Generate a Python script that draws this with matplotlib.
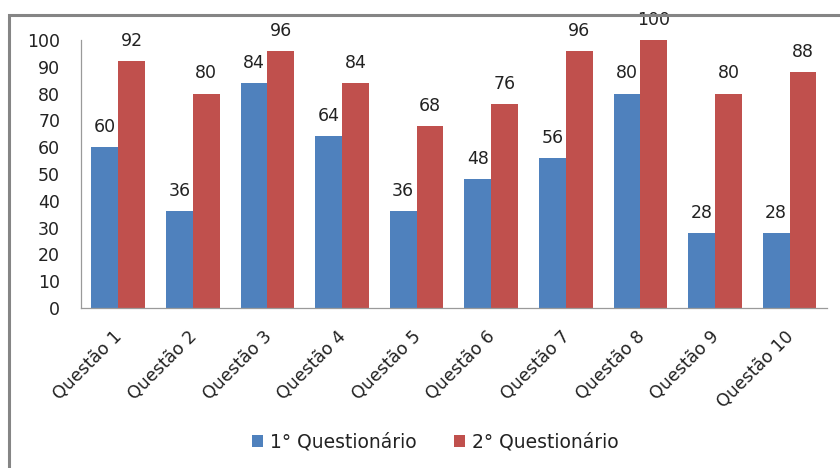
import numpy as np
import matplotlib.pyplot as plt
import matplotlib.transforms as mtransforms
from matplotlib.patches import Rectangle

questoes = ['Questão 1', 'Questão 2', 'Questão 3', 'Questão 4', 'Questão 5',
            'Questão 6', 'Questão 7', 'Questão 8', 'Questão 9', 'Questão 10']
q1 = [60, 36, 84, 64, 36, 48, 56, 80, 28, 28]
q2 = [92, 80, 96, 84, 68, 76, 96, 100, 80, 88]
series_names = ['1° Questionário', '2° Questionário']

plt.rcParams['font.family'] = ['DejaVu Sans']

fig = plt.figure(figsize=(8.4, 4.68), dpi=100)
ax = fig.add_axes([0.0964, 0.342, 0.888, 0.5725])

x = np.arange(len(questoes))
w = 0.36
b1 = ax.bar(x - w/2, q1, w, color='#4F81BD', label=series_names[0])
b2 = ax.bar(x + w/2, q2, w, color='#C0504D', label=series_names[1])

for bars in (b1, b2):
    for r in bars:
        ax.annotate(str(int(r.get_height())), (r.get_x() + r.get_width()/2, r.get_height()),
                    xytext=(0, 8), textcoords='offset points', ha='center', va='bottom',
                    fontsize=12.5, color='#222222', annotation_clip=False)

ax.set_xlim(-0.5, len(questoes) - 0.5)
ax.set_ylim(0, 100)
ax.set_yticks(range(0, 101, 10))
ax.tick_params(axis='y', length=0, labelsize=12.5, pad=15, labelcolor='#222222')
ax.set_xticks(x)
ax.set_xticklabels(questoes, rotation=45, ha='right', rotation_mode='anchor',
                   fontsize=12.5, color='#222222')
ax.tick_params(axis='x', length=0, pad=14)
shift = mtransforms.ScaledTranslation(-5/100, 0, fig.dpi_scale_trans)
for lab in ax.get_xticklabels():
    lab.set_transform(lab.get_transform() + shift)
for s in ['top', 'right']:
    ax.spines[s].set_visible(False)
for s in ['left', 'bottom']:
    ax.spines[s].set_color('#9a9a9a')
    ax.spines[s].set_linewidth(0.9)

leg = fig.legend(handles=[b1, b2], loc='center', bbox_to_anchor=(0.518, 0.055), ncol=2,
                 frameon=False, fontsize=13.5, handlelength=0.6, handleheight=0.6,
                 handletextpad=0.35, columnspacing=2.0)
for t in leg.get_texts():
    t.set_color('#222222')

# chart border
fig.patches.append(Rectangle((9/840, -0.01), 1.0, 1 - 15/468 + 0.01, transform=fig.transFigure,
                             fill=False, edgecolor='#858585', linewidth=2.2))

fig.savefig('out.png', dpi=100)
